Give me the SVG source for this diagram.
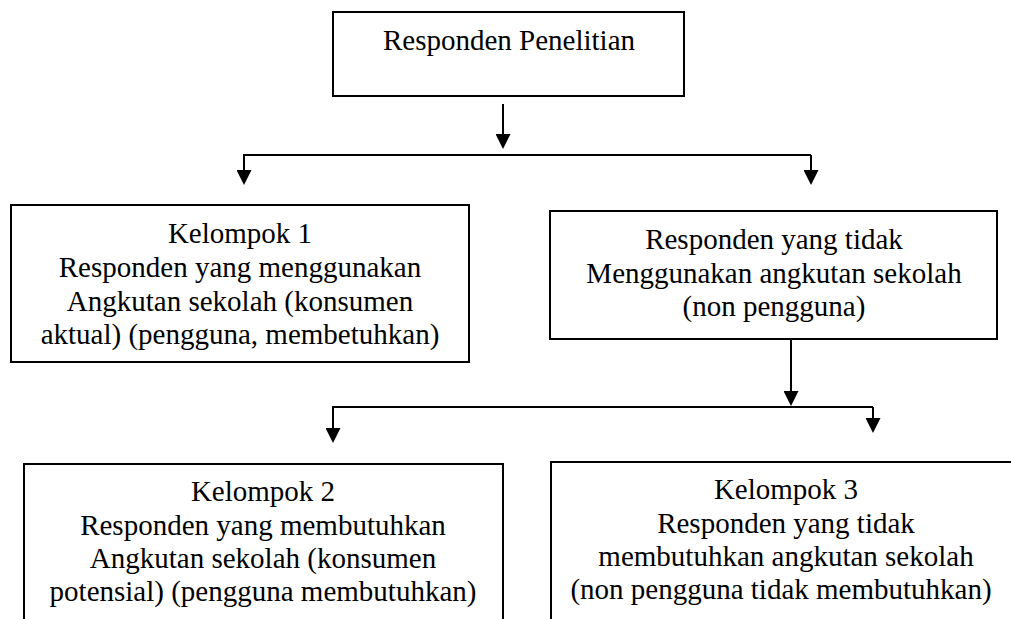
<svg xmlns="http://www.w3.org/2000/svg" width="1011" height="619" viewBox="0 0 1011 619">
  <style>
    .box { fill: #ffffff; stroke: #000000; stroke-width: 2; }
    .lbl { font-family: "Liberation Serif", "DejaVu Serif", serif; font-size: 29px; fill: #000000; text-anchor: middle; }
    .conn { fill: none; stroke: #000000; stroke-width: 2; marker-end: url(#arrow); }
  </style>
  <defs>
    <marker id="arrow" viewBox="0 0 10 10" refX="2" refY="5" markerWidth="15" markerHeight="15" markerUnits="userSpaceOnUse" orient="auto">
      <path d="M0,0 L10,5 L0,10 Z" fill="#000000"/>
    </marker>
  </defs>
  <rect x="0" y="0" width="1011" height="619" fill="#ffffff"/>

  <g id="connectors">
    <path class="conn" d="M503,104 L503,137"/>
    <path class="conn" d="M811,155 L244,155 L244,173"/>
    <path class="conn" d="M811,155 L811,173"/>
    <path class="conn" d="M791,339 L791,394"/>
    <path class="conn" d="M873,407 L333,407 L333,431"/>
    <path class="conn" d="M873,407 L873,421"/>
  </g>

  <g id="node-responden">
    <rect class="box" x="333" y="12" width="351" height="84"/>
    <text class="lbl" x="509" y="50">Responden Penelitian</text>
  </g>

  <g id="node-kelompok1">
    <rect class="box" x="11" y="205" width="458" height="157"/>
    <text class="lbl" x="240" y="243">Kelompok 1</text>
    <text class="lbl" x="240" y="277">Responden yang menggunakan</text>
    <text class="lbl" x="240" y="311">Angkutan sekolah (konsumen</text>
    <text class="lbl" x="240" y="344">aktual) (pengguna, membetuhkan)</text>
  </g>

  <g id="node-nonpengguna">
    <rect class="box" x="550" y="211" width="447" height="128"/>
    <text class="lbl" x="774" y="249">Responden yang tidak</text>
    <text class="lbl" x="774" y="283">Menggunakan angkutan sekolah</text>
    <text class="lbl" x="774" y="316">(non pengguna)</text>
  </g>

  <g id="node-kelompok2">
    <rect class="box" x="24" y="464" width="479" height="200"/>
    <text class="lbl" x="263" y="501">Kelompok 2</text>
    <text class="lbl" x="263" y="535">Responden yang membutuhkan</text>
    <text class="lbl" x="263" y="568">Angkutan sekolah (konsumen</text>
    <text class="lbl" x="263" y="601">potensial) (pengguna membutuhkan)</text>
  </g>

  <g id="node-kelompok3">
    <rect class="box" x="551" y="462" width="500" height="200"/>
    <text class="lbl" x="786" y="499">Kelompok 3</text>
    <text class="lbl" x="786" y="533">Responden yang tidak</text>
    <text class="lbl" x="786" y="566">membutuhkan angkutan sekolah</text>
    <text class="lbl" x="781" y="599">(non pengguna tidak membutuhkan)</text>
  </g>
</svg>
